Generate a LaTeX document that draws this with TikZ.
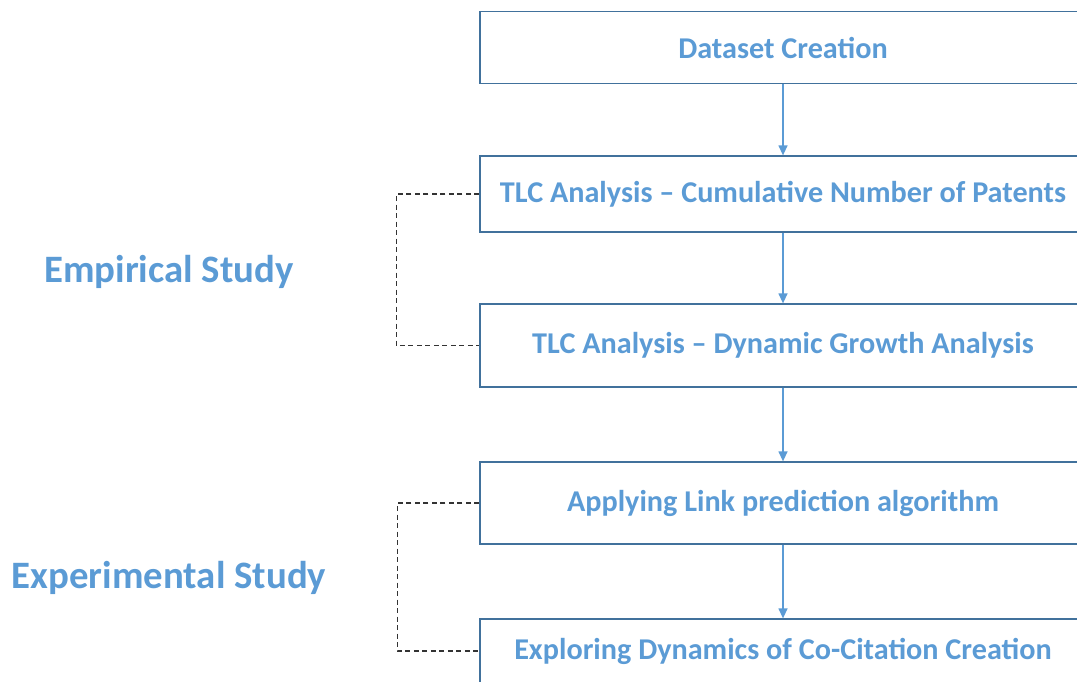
\documentclass[tikz,border=0pt]{standalone}
\usepackage{fontspec}
\setmainfont{Carlito}
\usetikzlibrary{arrows,arrows.meta,positioning}
\definecolor{stepblue}{HTML}{5B9BD5}
\definecolor{edgeblue}{HTML}{41719C}
\begin{document}
\begin{tikzpicture}[x=1pt,y=-1pt]
        \tikzset{stage/.style = {draw=edgeblue,line width=1.3pt,minimum width=606pt,inner sep=0pt,text=stepblue,font=\fontsize{30.2}{35}\selectfont\bfseries}}
        \tikzset{study/.style = {text=stepblue,font=\fontsize{38.8}{46}\selectfont\bfseries}}
        \tikzset{flow_edge/.style = {-{Triangle[length=10pt,width=9pt]},line width=1.3pt,color=stepblue}}
        \tikzset{group_edge/.style = {line width=1.6pt,color=black!80,dash pattern=on 5pt off 3.5pt}}

        \clip (0,0) rectangle (1077,681);

        \node[stage,minimum height=72pt] (box1) at (783,47.5) {Dataset Creation};
        \node[stage,minimum height=76pt] (box2) at (783,194) {TLC Analysis -- Cumulative Number of Patents};
        \node[stage,minimum height=83pt] (box3) at (783,345.5) {TLC Analysis -- Dynamic Growth Analysis};
        \node[stage,minimum height=82pt] (box4) at (783,503) {Applying Link prediction algorithm};
        \node[stage,minimum height=64pt] (box5) at (783,651) {Exploring Dynamics of Co-Citation Creation};

        \node[study] (empirical) at (169,272) {Empirical Study};
        \node[study] (experimental) at (169,578) {Experimental Study};

        \draw[flow_edge] (box1) -- (box2); \draw[flow_edge] (box2) -- (box3);
        \draw[flow_edge] (box3) -- (box4); \draw[flow_edge] (box4) -- (box5);

        \draw[group_edge] (box2.west) -- ++(-83,0) |- (box3.west);
        \draw[group_edge] (box4.west) -- ++(-82,0) |- (box5.west);
    \end{tikzpicture}
\end{document}
